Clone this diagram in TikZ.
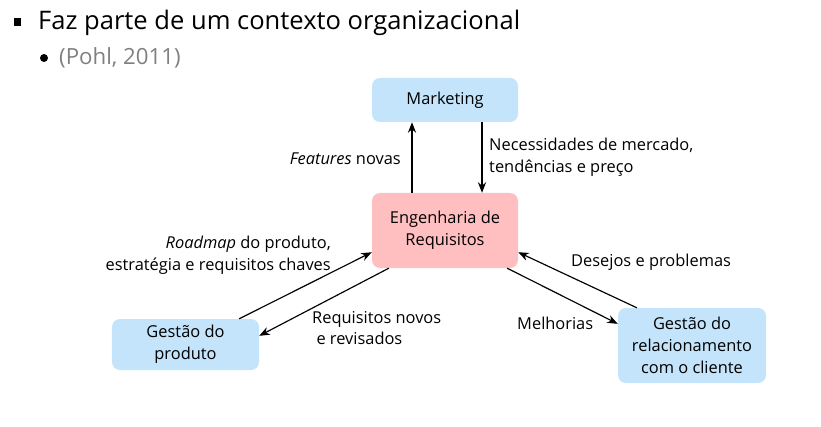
\documentclass[tikz,border=0pt]{standalone}
\usepackage{fontspec}
\setmainfont{Open Sans}
\usepackage{tikz}
\usetikzlibrary{arrows.meta}
\definecolor{boxblue}{HTML}{C3E4FA}
\definecolor{boxpink}{HTML}{FFBFC0}
\definecolor{citegray}{HTML}{808080}
\tikzset{box/.style={rounded corners=0.24cm, align=center, inner sep=0pt, font=\fontsize{14}{18.5}\selectfont}}
\tikzset{lbl/.style={align=left, inner sep=0pt, font=\fontsize{14}{18.5}\selectfont}}
\tikzset{arrow/.style={line width=1pt,-{Stealth[length=9pt,width=7pt]}}}

\begin{document}
\begin{tikzpicture}[x=0.03cm,y=-0.03cm]
\useasboundingbox (0,0) rectangle (821,427);

% title lines
\fill (13.5,18.5) rectangle (21,26);
\node[anchor=west, inner sep=0pt, font=\fontsize{21.8}{26}\selectfont] (title) at (38,23) {Faz parte de um contexto organizacional};
\fill (44,58) circle (4);
\node[anchor=west, inner sep=0pt, text=citegray, font=\fontsize{19}{22}\selectfont] (cite) at (59,58) {(Pohl, 2011)};

% boxes
\node[box, fill=boxblue, minimum width=4.38cm, minimum height=1.32cm] (mkt) at (445,100) {Marketing};
\node[box, fill=boxpink, minimum width=4.38cm, minimum height=2.25cm] (eng) at (445,230.5) {Engenharia de\\Requisitos};
\node[box, fill=boxblue, minimum width=4.41cm, minimum height=1.53cm] (prod) at (185.5,344.5) {Gestão do\\produto};
\node[box, fill=boxblue, minimum width=4.44cm, minimum height=2.25cm] (rel) at (692,345.5) {Gestão do\\relacionamento\\com o cliente};

% arrows
\draw[arrow] ([xshift=-0.99cm]eng.north) -- ([xshift=-0.99cm]mkt.south);
\draw[arrow] ([xshift=1.11cm]mkt.south) -- ([xshift=1.11cm]eng.north);
\draw[arrow] ([xshift=-0.6cm]prod.north east) -- ([yshift=0.48cm]eng.south west);
\draw[arrow] ([xshift=0.51cm]eng.south west) -- ([yshift=0.26cm]prod.east);
\draw[arrow] ([xshift=0.57cm]rel.north west) -- ([yshift=0.48cm]eng.south east);
\draw[arrow] ([xshift=-0.33cm]eng.south east) -- ([yshift=0.65cm]rel.west);

% labels
\node[lbl, anchor=east] (featlbl) at (401,159) {\textit{Features} novas};
\node[lbl, anchor=west] (needlbl) at (489,157) {Necessidades de mercado,\\tendências e preço};
\node[lbl, anchor=east, align=right] (roadlbl) at (331,255) {\textit{Roadmap} do produto,\\estratégia e requisitos chaves};
\node[lbl, anchor=west] (reqlbl) at (312,328) {Requisitos novos\\\ e revisados};
\node[lbl, anchor=west] (deslbl) at (571,262) {Desejos e problemas};
\node[lbl, anchor=west] (melhlbl) at (517,323) {Melhorias};
\end{tikzpicture}
\end{document}
